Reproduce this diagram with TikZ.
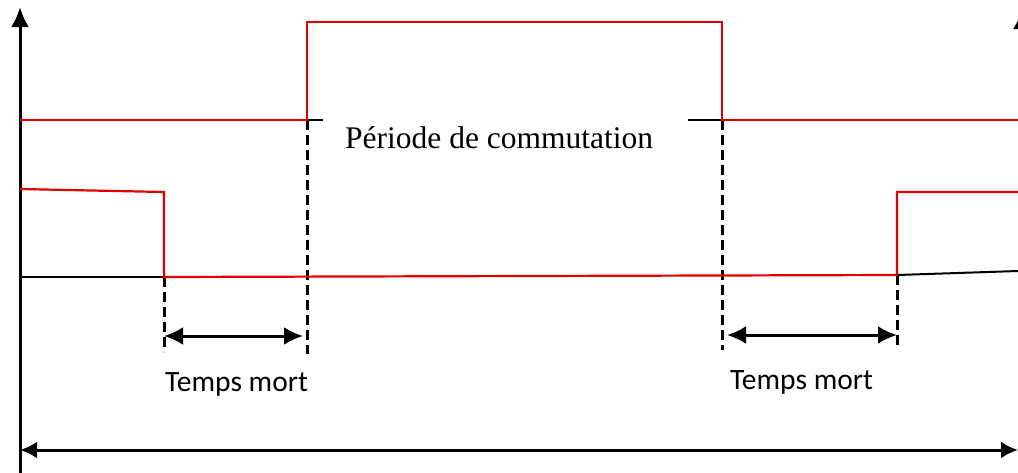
\documentclass[tikz,border=0pt]{standalone}
\usepackage{fontspec}
\setmainfont{Liberation Serif}
\newfontfamily\calib{Carlito}
\usetikzlibrary{arrows.meta}
\definecolor{sigred}{RGB}{225,0,0}
\begin{document}
\begin{tikzpicture}[x=1pt,y=-1pt,
 axis/.style={black,line width=3pt},
 sig/.style={sigred,line width=2.2pt},
 base/.style={black,line width=2pt},
 guide/.style={black,line width=3pt,dash pattern=on 10pt off 5pt},
 dim/.style={black,line width=3pt,{Latex[length=19pt,width=18pt]}-{Latex[length=19pt,width=18pt]}},
 lbl/.style={font=\calib\fontsize{29.5}{32}\selectfont,inner sep=0pt},
 ttl/.style={font=\fontsize{31.5}{34}\selectfont,inner sep=0pt}]
\useasboundingbox (0,0) rectangle (1018,472);
\begin{scope}
\clip (0,0) rectangle (1018,472);
% coordinates
\coordinate (ax0) at (20,475);
\coordinate (ax1) at (20,7);
\coordinate (rx0) at (1022,60);
\coordinate (rx1) at (1022,9);
\coordinate (a0) at (20,120);
\coordinate (a1) at (307,120);
\coordinate (a2) at (307,22);
\coordinate (a3) at (722,22);
\coordinate (a4) at (722,120);
\coordinate (a5) at (1018,120);
\coordinate (t1s) at (302,120);
\coordinate (t1e) at (323,120);
\coordinate (t2s) at (688,120);
\coordinate (b0) at (20,189);
\coordinate (b1) at (164,192);
\coordinate (b2) at (164,277);
\coordinate (b3) at (897,275);
\coordinate (b4) at (897,192);
\coordinate (b5) at (1018,192);
\coordinate (z0) at (20,277);
\coordinate (z1) at (1018,271);
\coordinate (d1) at (164,352);
\coordinate (d2) at (307,354);
\coordinate (d3) at (722,350);
\coordinate (d4) at (897,345);
\coordinate (m1s) at (164,336);
\coordinate (m1e) at (303,336);
\coordinate (m2s) at (727,335);
\coordinate (m2e) at (897,335);
\coordinate (hs) at (20,450);
\coordinate (he) at (1018,450);
% axes
\draw[axis,-{Latex[length=20pt,width=18pt]}] (ax0) -- (ax1);
\draw[axis,-{Latex[length=20pt,width=18pt]}] (rx0) -- (rx1);
% black ticks and baseline
\draw[base] (t1s) -- (t1e);
\draw[base] (t2s) -- (a4);
\draw[base] (z0) -- (b2);
\draw[base] (b3) -- (z1);
% guides
\draw[guide] (b2) -- (d1);
\draw[guide] (a1) -- (d2);
\draw[guide] (a4) -- (d3);
\draw[guide] (b3) -- (d4);
% signals
\draw[sig] (a0) -- (a1) -- (a2) -- (a3) -- (a4) -- (a5);
\draw[sig] (b0) -- (b1) -- (b2) -- (b3) -- (b4) -- (b5);
% dimension arrows
\draw[dim] (m1s) -- (m1e);
\draw[dim] (m2s) -- (m2e);
\draw[axis,{Latex[length=17pt,width=17pt]}-{Latex[length=17pt,width=17pt]}] (hs) -- (he);
\end{scope}
% labels
\node[lbl,anchor=base west] (tm1) at (165,391) {Temps mort};
\node[lbl,anchor=base west] (tm2) at (730,389) {Temps mort};
\node[ttl,anchor=base west] (pc) at (345,148) {Période de commutation};
\end{tikzpicture}
\end{document}
